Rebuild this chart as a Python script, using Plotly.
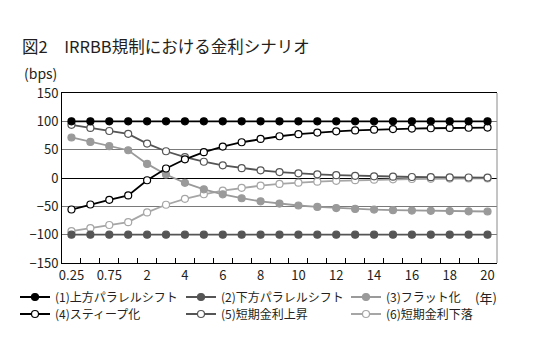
import plotly.graph_objects as go

# maturities (years)
maturities = ["0.25", "0.5", "0.75", "1", "2", "3", "4", "5", "6", "7", "8", "9", "10",
              "11", "12", "13", "14", "15", "16", "17", "18", "19", "20"]
tick_labels = ["0.25", "", "0.75", "", "2", "", "4", "", "6", "", "8", "", "10",
               "", "12", "", "14", "", "16", "", "18", "", "20"]
y_ticks = [-150, -100, -50, 0, 50, 100, 150]
y_tick_labels = ["−150", "−100", "−50", "0", "50", "100", "150"]

s1_parallel_up = [100] * 23
s2_parallel_down = [-100] * 23
s3_flattener = [71.5, 63.6, 56.1, 49.0, 24.9, 6.1, -8.5, -19.9, -28.8, -35.7, -41.1, -45.2,
                -48.5, -51.1, -53.0, -54.6, -55.8, -56.7, -57.4, -58.0, -58.4, -58.8, -59.1]
s4_steepener = [-55.6, -46.8, -38.5, -30.7, -4.0, 16.8, 33.0, 45.6, 55.4, 63.1, 69.0, 73.7,
                77.3, 80.1, 82.3, 84.0, 85.3, 86.4, 87.2, 87.8, 88.3, 88.7, 89.0]
s5_short_up = [93.9, 88.3, 82.9, 77.9, 60.7, 47.2, 36.8, 28.7, 22.3, 17.4, 13.5, 10.5,
               8.2, 6.4, 5.0, 3.9, 3.0, 2.4, 1.8, 1.4, 1.1, 0.9, 0.7]
s6_short_down = [-93.9, -88.3, -82.9, -77.9, -60.7, -47.2, -36.8, -28.7, -22.3, -17.4, -13.5,
                 -10.5, -8.2, -6.4, -5.0, -3.9, -3.0, -2.4, -1.8, -1.4, -1.1, -0.9, -0.7]

names = ["(1)上方パラレルシフト", "(2)下方パラレルシフト", "(3)フラット化",
         "(4)スティープ化", "(5)短期金利上昇", "(6)短期金利下落"]

FONT = "Noto Sans CJK JP"
TXT = "#231f20"

# name, values, line colour, marker fill, marker outline, legend id
series = [
    (names[5], s6_short_down, "#a6a6a6", "white", "#a6a6a6", "legend6"),
    (names[2], s3_flattener, "#9a9a9a", "#9a9a9a", "#9a9a9a", "legend3"),
    (names[4], s5_short_up, "#555555", "white", "#555555", "legend5"),
    (names[1], s2_parallel_down, "#555555", "#555555", "#555555", "legend2"),
    (names[3], s4_steepener, "#000000", "white", "#000000", "legend4"),
    (names[0], s1_parallel_up, "#000000", "#000000", "#000000", "legend"),
]

fig = go.Figure()
for name, vals, lc, mfill, mline, leg in series:
    fig.add_trace(go.Scatter(
        x=maturities, y=vals, name=name, mode="lines+markers",
        line=dict(color=lc, width=1.8),
        marker=dict(size=7, color=mfill, line=dict(color=mline, width=1.2)),
        legend=leg, showlegend=True,
    ))

# page offset (browser body margin) = 8px
W, H = 535, 343
PLOT_L, PLOT_W, PLOT_B, PLOT_H = 62, 435, 263, 170  # page coordinates


def px(xp):
    return (xp - PLOT_L) / PLOT_W


def py(yp):
    return (PLOT_B - yp) / PLOT_H


def leg(xl, yc):
    return dict(font=dict(family=FONT, size=12, color=TXT), bgcolor="rgba(0,0,0,0)",
                xanchor="left", yanchor="middle", orientation="v", itemwidth=30,
                x=px(xl), y=py(yc), visible=True)


fig.update_layout(
    width=W, height=H,
    showlegend=True,
    margin=dict(l=54, r=46, t=85, b=88, autoexpand=False),
    paper_bgcolor="white", plot_bgcolor="white",
    font=dict(family=FONT, size=13, color=TXT),
    title=dict(text="図2　IRRBB規制における金利シナリオ", x=14 / W, xanchor="left",
               xref="container", yref="container", y=1 - 39 / H, yanchor="middle",
               font=dict(family=FONT, size=16.5, color=TXT)),
    xaxis=dict(type="category", range=[-0.5, 22.5], tickmode="array",
               tickvals=maturities, ticktext=tick_labels, tickson="boundaries",
               tickangle=0, ticks="inside", ticklen=5, tickcolor="#000", showline=True,
               linecolor="#000", linewidth=1, mirror=True, showgrid=False,
               tickfont=dict(family=FONT, size=13, color=TXT)),
    yaxis=dict(range=[-150, 150], tickmode="array",
               tickvals=y_ticks, ticktext=y_tick_labels, showline=True,
               linecolor="#000", linewidth=1, showgrid=True, gridcolor="#7a7a7a",
               gridwidth=1, zeroline=True, zerolinecolor="#000", zerolinewidth=1.2,
               ticks="", tickfont=dict(family=FONT, size=13, color=TXT)),
    legend=leg(15, 297),
    legend4=leg(15, 314),
    legend2=leg(181, 297),
    legend5=leg(181, 314),
    legend3=leg(346, 297),
    legend6=leg(346, 314),
    shapes=[dict(type="line", xref="paper", yref="paper", x0=1, x1=1, y0=0, y1=1,
                 line=dict(color="#8a8a8a", width=1))],
    annotations=[
        dict(text="(bps)", xref="paper", yref="paper", x=px(22),
             y=py(73), xanchor="left", yanchor="middle", showarrow=False,
             font=dict(family=FONT, size=14, color=TXT)),
        dict(text="(年)", xref="paper", yref="paper", x=px(486),
             y=py(297), xanchor="center", yanchor="middle", showarrow=False,
             font=dict(family=FONT, size=13, color=TXT)),
    ],
)

fig.write_html("out.html")
